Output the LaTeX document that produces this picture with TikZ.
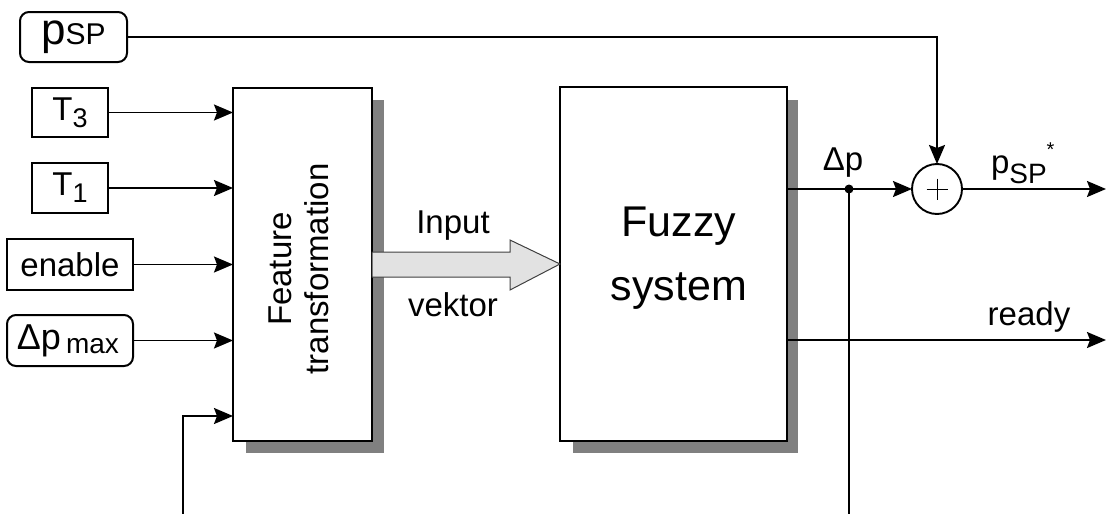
\documentclass[tikz,border=0pt]{standalone}
\usepackage{fontspec}
\setmainfont{Liberation Sans}
\usetikzlibrary{arrows.meta,calc}
\definecolor{shadowgray}{HTML}{808080}
\definecolor{arrowfill}{HTML}{E2E2E2}
\newcommand\fs[1]{\fontsize{#1}{#1}\selectfont}
\begin{document}
\begin{tikzpicture}[x=1pt,y=-1pt,
  box/.style={draw, line width=2pt, fill=white, inner sep=0pt, outer sep=0pt, font=\fs{33}},
  rbox/.style={box, rounded corners=9pt},
  shadowbox/.style={fill=shadowgray, draw=none},
  conn/.style={line width=1.9pt, -{Stealth[length=19pt,width=16pt,inset=3pt]}},
  wire/.style={line width=1.9pt},
  lbl/.style={font=\fs{33}, inner sep=0pt, outer sep=0pt}
]
\useasboundingbox (0,0) rectangle (1106,514);

% shadows
\fill[shadowbox] (246,100) rectangle (384,453);
\fill[shadowbox] (573,100) rectangle (798,453);

% input boxes
\node[rbox, minimum width=107pt, minimum height=50pt] (psp) at (73.5,37)
  {\fs{44}p\fs{30}SP};
\node[box, minimum width=76pt, minimum height=49pt] (T3) at (70,112.5)
  {T\raisebox{-7pt}{\fs{27}3}};
\node[box, minimum width=76pt, minimum height=50pt] (T1) at (70,188)
  {T\raisebox{-7pt}{\fs{27}1}};
\node[box, minimum width=126pt, minimum height=51pt] (enable) at (70,264.5)
  {enable};
\node[rbox, minimum width=126pt, minimum height=51pt] (dpmax) at (70,340.5)
  {\fs{36}$\!$Δp\hspace{5pt}\raisebox{-4pt}{\fs{28}max}};

% main blocks
\node[box, minimum width=139pt, minimum height=353pt] (feat) at (302.5,264.5) {};
\node[lbl, rotate=90, align=center, font=\fontsize{33}{37}\selectfont] (feattext) at (299,269)
  {Feature\\transformation};
\node[box, minimum width=227pt, minimum height=354pt] (fuzzy) at (673.5,264) {};
\node[lbl, align=center, font=\fontsize{43}{64}\selectfont] (fuzzytext) at (679,258)
  {Fuzzy\\system};

% big input arrow
\draw[fill=arrowfill, draw=black!75, line width=1pt]
  (feat.east |- 0,252) -- (510,252) -- (510,240) -- (fuzzy.west)
  -- (510,290) -- (510,277) -- (feat.east |- 0,277) -- cycle;
\node[lbl, anchor=base] (inputlbl) at (453,233) {Input};
\node[lbl, anchor=base] (vektorlbl) at (453,316) {vektor};

% summing junction
\node[circle, draw, fill=white, line width=1.9pt, minimum size=50pt, inner sep=0pt, outer sep=0pt] (sum) at (937,189) {};
\draw[line width=0.9pt] ($(sum.center)+(-10.5,0)$) -- ($(sum.center)+(10.5,0)$);
\draw[line width=0.9pt] ($(sum.center)+(0,-10.5)$) -- ($(sum.center)+(0,10.5)$);

% coordinates
\coordinate (y5) at (0,416);
\coordinate (in5) at (183,514);
\coordinate (dp) at (849,189);
\coordinate (dpend) at (849,514);
\coordinate (out) at (1106,189);
\coordinate (rdy) at (1106,340);

% connectors to feature block
\draw[conn] (T3.east) -- (T3.east -| feat.west);
\draw[conn] (T1.east) -- (T1.east -| feat.west);
\draw[conn] (enable.east) -- (enable.east -| feat.west);
\draw[conn] (dpmax.east) -- (dpmax.east -| feat.west);
\draw[conn] (in5) |- (feat.west |- y5);

% outputs
\draw[conn] (psp.east) -| (sum.north);
\draw[conn] (fuzzy.east |- sum) -- (sum.west);
\draw[conn] (sum.east) -- (out);
\draw[conn] (fuzzy.east |- rdy) -- (rdy);
\draw[wire] (dp) -- (dpend);
\fill (dp) circle (4.5pt);

% labels
\node[lbl, anchor=base] (dplbl) at (843,170) {Δp};
\node[lbl, anchor=base] (readylbl) at (1029,325) {ready};
\node[lbl, anchor=base west] (outlbl) at (991,173)
  {p\raisebox{-10pt}{\fs{28}SP}\raisebox{17pt}{\fs{20}*}};
\end{tikzpicture}
\end{document}
